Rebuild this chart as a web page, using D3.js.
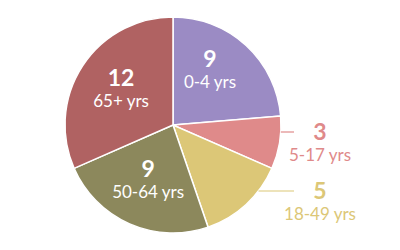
<!DOCTYPE html>
<html>
<head>
<meta charset="utf-8">
<script src="https://cdn.jsdelivr.net/npm/d3@7"></script>
<style>
  body { margin: 0; background: #fff; }
  text { font-family: Lato, "Open Sans", sans-serif; }
</style>
</head>
<body>
<svg id="chart" width="400" height="250"></svg>
<script>
// age groups and counts, clockwise from the top
const groups = ["0-4 yrs", "5-17 yrs", "18-49 yrs", "50-64 yrs", "65+ yrs"];
const counts = [9, 3, 5, 9, 12];
const colors = ["#9b8bc4", "#df8a8a", "#dcc777", "#8c885c", "#b06262"];
// which labels sit outside the pie
const outside = [false, true, true, false, false];

const svg = d3.select("#chart");
const cx = 173, cy = 125, radius = 108;

// small hand nudges for inside labels that don't sit on the centroid
const labelNudge = { "0-4 yrs": [-5, -7] };

const pie = d3.pie().sort(null).value(d => d.count);
const arcs = pie(groups.map((g, i) => ({ group: g, count: counts[i], color: colors[i], outside: outside[i] })));

const arc = d3.arc().innerRadius(0).outerRadius(radius);
const labelArc = d3.arc().innerRadius(62).outerRadius(62);

const g = svg.append("g").attr("transform", `translate(${cx},${cy})`);

g.selectAll("path")
    .data(arcs)
    .join("path")
    .attr("d", arc)
    .attr("fill", d => d.data.color)
    .attr("stroke", "#fff")
    .attr("stroke-width", 1.5);

// inside labels
const inner = g.selectAll("g.inner")
    .data(arcs.filter(d => !d.data.outside))
    .join("g")
    .attr("class", "inner")
    .attr("transform", d => {
        const [x, y] = labelArc.centroid(d);
        const [nx, ny] = labelNudge[d.data.group] || [0, 0];
        return `translate(${x + nx},${y + ny})`;
    });

inner.append("text")
    .attr("text-anchor", "middle")
    .attr("y", -5)
    .attr("fill", "#fff")
    .attr("font-size", 23)
    .attr("font-weight", 700)
    .text(d => d.data.count);

inner.append("text")
    .attr("text-anchor", "middle")
    .attr("y", 16)
    .attr("fill", "#fff")
    .attr("font-size", 17)
    .text(d => d.data.group);

// outside labels with short leader lines
const outerArcs = arcs.filter(d => d.data.outside);
const labelX = 320;
const labelY = d3.scalePoint().domain(outerArcs.map(d => d.data.group)).range([140, 199]);

outerArcs.forEach(d => {
    const y = labelY(d.data.group);
    const lineY = y - 8;
    // x where the horizontal leader meets the pie edge
    const edgeX = Math.sqrt(radius * radius - (lineY - cy) * (lineY - cy));
    svg.append("line")
        .attr("x1", cx + edgeX)
        .attr("x2", 294)
        .attr("y1", lineY)
        .attr("y2", lineY)
        .attr("stroke", d.data.color)
        .attr("stroke-width", 1.2);

    svg.append("text")
        .attr("x", labelX)
        .attr("y", y)
        .attr("text-anchor", "middle")
        .attr("fill", d.data.color)
        .attr("font-size", 23)
        .attr("font-weight", 700)
        .text(d.data.count);

    svg.append("text")
        .attr("x", labelX)
        .attr("y", y + 21)
        .attr("text-anchor", "middle")
        .attr("fill", d.data.color)
        .attr("font-size", 17)
        .text(d.data.group);
});
</script>
</body>
</html>
